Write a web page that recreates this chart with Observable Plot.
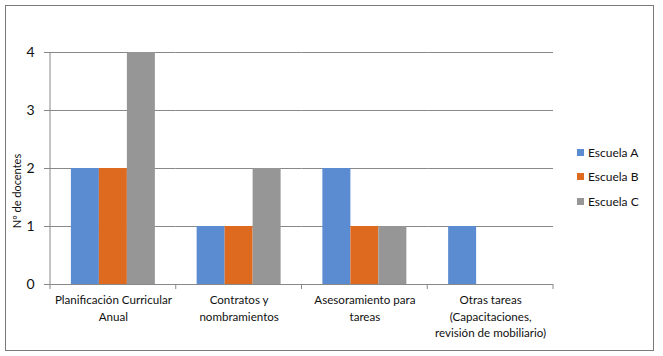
<!DOCTYPE html>
<html><head><meta charset="utf-8">
<script src="https://cdn.jsdelivr.net/npm/d3@7"></script>
<script src="https://cdn.jsdelivr.net/npm/@observablehq/plot@0.6"></script>
<style>
body{margin:0;background:#fff;font-family:Lato, "Noto Sans", sans-serif;}
#wrap{position:relative;width:663px;height:356px;overflow:hidden;}
#border{position:absolute;left:5px;top:5px;width:649px;height:346px;border:1.5px solid #7a7a7a;box-sizing:border-box;pointer-events:none;}
#legend{position:absolute;left:577px;top:140px;font-size:12px;color:#111;}
.item{display:flex;align-items:center;height:24.6px;}
.sw{width:7px;height:7px;margin-right:4px;}
</style></head>
<body>
<div id="wrap"><div id="chart"></div><div id="legend"></div><div id="border"></div></div>
<script>
const categories = ["Planificación Curricular Anual", "Contratos y nombramientos", "Asesoramiento para tareas", "Otras tareas (Capacitaciones, revisión de mobiliario)"];
const categoryLabels = ["Planificación Curricular\nAnual", "Contratos y\nnombramientos", "Asesoramiento para\ntareas", "Otras tareas\n(Capacitaciones,\nrevisión de mobiliario)"];
const schools = ["Escuela A", "Escuela B", "Escuela C"];
const escuelaA = [2, 1, 2, 1];
const escuelaB = [2, 1, 1, 0];
const escuelaC = [4, 2, 1, 0];
const colors = ["#5b8bd0", "#dd6a1f", "#969696"];
const yTicks = [0, 1, 2, 3, 4];
const yLabel = "Nº de docentes";

const series = [escuelaA, escuelaB, escuelaC];
const data = [];
categories.forEach((c, i) => schools.forEach((s, j) => data.push({category: c, school: s, value: series[j][i]})));

const gridColor = "#888";
const plot = Plot.plot({
  width: 663, height: 356,
  marginLeft: 50, marginRight: 110, marginTop: 52, marginBottom: 72,
  style: {fontFamily: "Lato, 'Noto Sans', sans-serif", background: "transparent", color: "#111"},
  fx: {domain: categories, padding: 0, label: null, round: false},
  x: {domain: schools, paddingInner: 0, paddingOuter: 0.746, round: false, axis: null},
  y: {domain: [0, 4], label: null},
  color: {domain: schools, range: colors},
  marks: [
    Plot.gridY(yTicks, {stroke: gridColor, strokeOpacity: 1, strokeWidth: 1}),
    Plot.barY(data, {fx: "category", x: "school", y: "value", fill: "school"}),
    Plot.axisY(yTicks, {tickSize: 6, tickPadding: 10, fontSize: 14, stroke: gridColor, label: null, tickFormat: d => String(d)}),
    Plot.axisFx({anchor: "bottom", tickSize: 0, tickPadding: 8, fontSize: 11.6, lineHeight: 1.42, label: null, tickFormat: c => categoryLabels[categories.indexOf(c)]})
  ]
});
document.getElementById("chart").appendChild(plot);

// axis lines and category boundary ticks from the library's scales
const fx = plot.scale("fx"), y = plot.scale("y");
const svg = d3.select(plot);
const g = svg.append("g").attr("stroke", gridColor).attr("stroke-width", 1);
const y0 = y.apply(0), y4 = y.apply(4);
const left = fx.apply(categories[0]);
g.append("line").attr("x1", left).attr("x2", left).attr("y1", y0 + 0.5).attr("y2", y4);
const edges = categories.map(c => fx.apply(c)).concat([fx.apply(categories[categories.length - 1]) + fx.bandwidth]);
edges.forEach(e => g.append("line").attr("x1", e).attr("x2", e).attr("y1", y0).attr("y2", y0 + 5));

svg.append("text")
  .attr("transform", `translate(21,${y0 - 93}) rotate(-90)`)
  .attr("text-anchor", "middle").attr("font-size", 11).attr("fill", "#111")
  .attr("font-family", "Lato, 'Noto Sans', sans-serif")
  .text(yLabel);

const legend = d3.select("#legend");
schools.forEach((s, i) => {
  const it = legend.append("div").attr("class", "item");
  it.append("div").attr("class", "sw").style("background", colors[i]);
  it.append("span").text(s);
});
</script>
</body></html>
